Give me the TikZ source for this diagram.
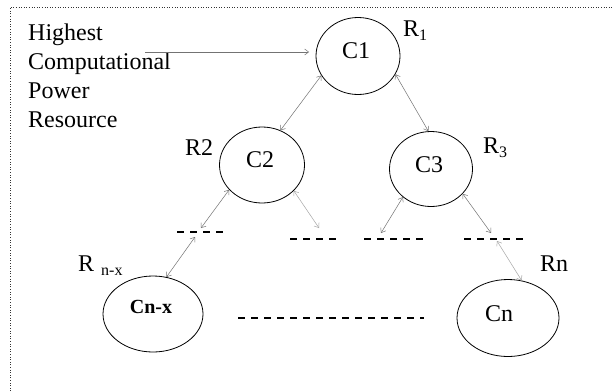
\documentclass[tikz,border=0pt]{standalone}
\usepackage{fontspec}
\setmainfont{Liberation Serif}
\usetikzlibrary{shapes.geometric,arrows.meta}
\tikzset{
  cell/.style={draw, ellipse, line width=0.8pt, inner sep=0pt},
  txt/.style={inner sep=0pt, font=\fontsize{24}{29}\selectfont},
  boldtxt/.style={inner sep=0pt, font=\fontsize{20}{24}\selectfont\bfseries},
  link/.style={draw=black!55, line width=0.5pt, >={Straight Barb[length=4pt,width=6pt]}},
  faint/.style={draw=black!35, line width=0.5pt, >={Straight Barb[length=4pt,width=6pt]}},
  dashline/.style={line width=1.8pt, dash pattern=on 7pt off 6pt},
  frame/.style={line width=0.6pt, dotted, draw=black!80}
}
\newcommand{\subs}[1]{{\fontsize{16}{16}\selectfont\raisebox{-4pt}{#1}}}
\begin{document}
\begin{tikzpicture}[x=1pt,y=-1pt]
\useasboundingbox (0,0) rectangle (612,391);
\fill[white] (0,0) rectangle (612,391);
% frame (right and bottom outside the picture)
\draw[frame] (10,391) -- (10,7) -- (612,7);

% ellipses
\node[cell, minimum width=84pt, minimum height=77pt] (c1) at (358,56) {};
\node[cell, minimum width=85pt, minimum height=76pt] (c2) at (262,165) {};
\node[cell, minimum width=83pt, minimum height=75pt] (c3) at (431,169) {};
\node[cell, minimum width=100pt, minimum height=76pt] (cnx) at (153,314) {};
\node[cell, minimum width=102pt, minimum height=77pt] (cn) at (508,318) {};

% labels inside
\node[txt, anchor=base] (c1t) at (356,58) {C1};
\node[txt, anchor=base] (c2t) at (260,167) {C2};
\node[txt, anchor=base] (c3t) at (429,172) {C3};
\node[boldtxt, anchor=base] (cnxt) at (151,313) {Cn-x};
\node[txt, anchor=base] (cnt) at (499,321) {Cn};

% R labels
\node[txt, anchor=base west] (r1) at (403,36) {R\subs{1}};
\node[txt, anchor=base west] (r2) at (185,155) {R2};
\node[txt, anchor=base west] (r3) at (483,153) {R\subs{3}};
\node[txt, anchor=base west] (rn) at (540,271) {Rn};
\node[txt, anchor=base west] (rnx) at (78,271) {R};
\node[inner sep=0pt, font=\fontsize{16}{16}\selectfont, anchor=base west] (rnxs) at (101,275) {n-x};

% left text
\node[txt, anchor=north west, align=left] (hcpr) at (28,24)
  {Highest\\Computational\\Power\\Resource};

% dashed levels
\draw[dashline] (177,232) -- (223,232);
\draw[dashline] (290,239) -- (337,239);
\draw[dashline] (364,239) -- (423,239);
\draw[dashline] (464,239) -- (523,239);
\draw[dashline] (238,318) -- (424,318);

% dash-level end points
\coordinate (d1a) at (201,228);
\coordinate (d1b) at (195,237);
\coordinate (d2a) at (319,228);
\coordinate (d3a) at (381,233);
\coordinate (d4a) at (491,233);
\coordinate (d4b) at (497,241);
\coordinate (hs) at (145,52);
\coordinate (he) at (309,52);

% connectors
\draw[link,->] (hs) -- (he);
\draw[link,<->] (c1.208) -- (c2.62);
\draw[link,<->] (c1.334) -- (c3.94);
\draw[link,<->] (c2.217) -- (d1a);
\draw[faint,<->] (c2.321) -- (d2a);
\draw[link,<->] (d1b) -- (cnx.70);
\draw[link,<->] (c3.225) -- (d3a);
\draw[link,<->] (c3.322) -- (d4a);
\draw[faint,<->] (d4b) -- (cn.70);
\end{tikzpicture}
\end{document}
